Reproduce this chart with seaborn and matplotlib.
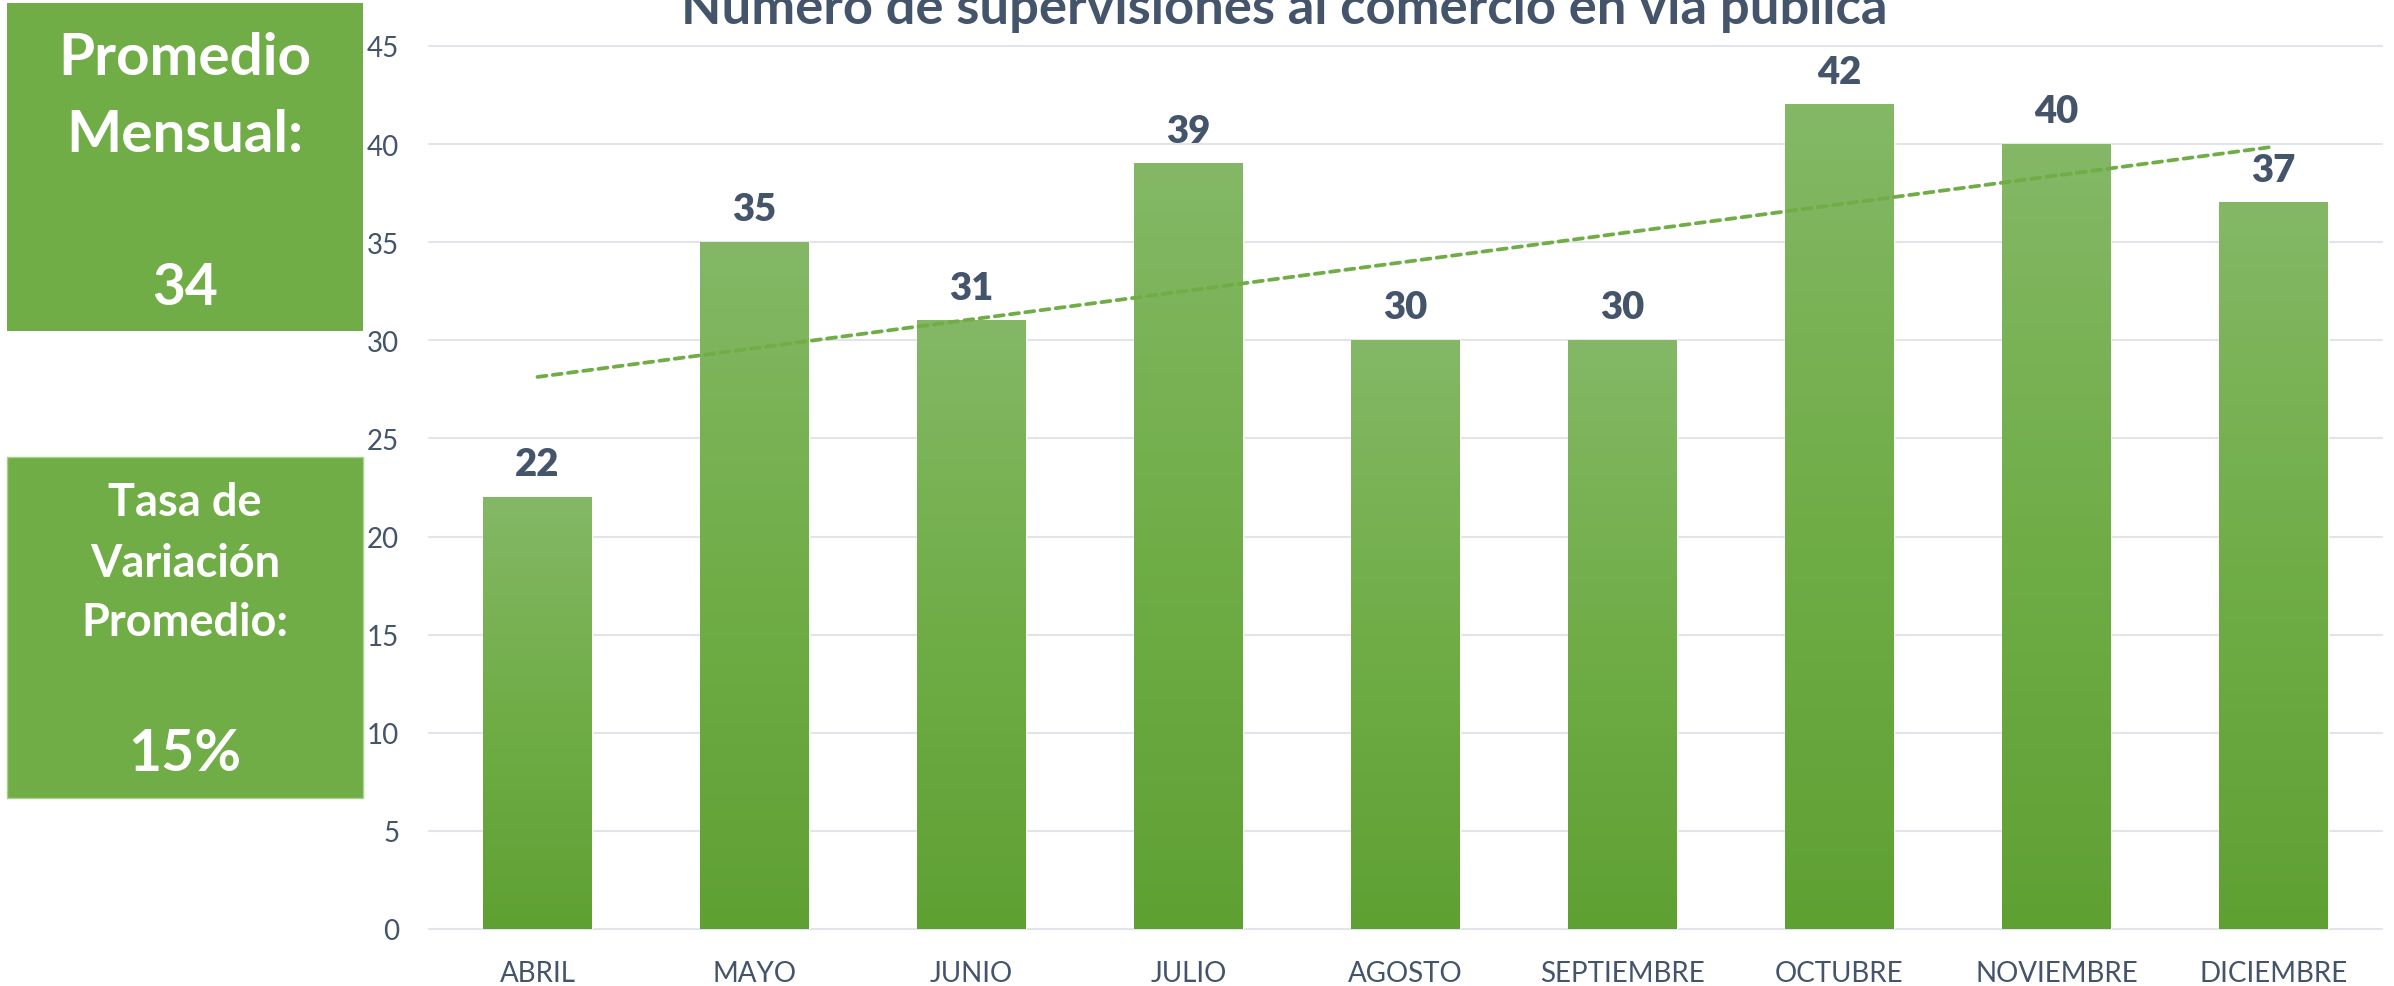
import numpy as np
import pandas as pd
import matplotlib
matplotlib.use("Agg")
import matplotlib.pyplot as plt
import seaborn as sns
from matplotlib.colors import LinearSegmentedColormap
from matplotlib.patches import Rectangle

# ---------------- data ----------------
months = ["ABRIL", "MAYO", "JUNIO", "JULIO", "AGOSTO", "SEPTIEMBRE",
          "OCTUBRE", "NOVIEMBRE", "DICIEMBRE"]
supervisiones = [22, 35, 31, 39, 30, 30, 42, 40, 37]
yticks = [0, 5, 10, 15, 20, 25, 30, 35, 40, 45]
title = "Número de supervisiones al comercio en vía pública"
box1_lines = ["Promedio", "Mensual:", "34"]
box2_lines = ["Tasa de", "Variación", "Promedio:", "15%"]

# ---------------- style ----------------
sns.set_theme(style="white")
plt.rcParams['font.family'] = ['Lato', 'DejaVu Sans']

GREEN = "#70AD47"
TXT = "#44546A"
W, H = 2394, 987
fig = plt.figure(figsize=(W / 100, H / 100), dpi=100)
fig.patch.set_facecolor("white")

ax_left, ax_right, ax_top, ax_bot = 429, 2382, 47, 930
ax = fig.add_axes([ax_left / W, 1 - ax_bot / H, (ax_right - ax_left) / W, (ax_bot - ax_top) / H])

df = pd.DataFrame({"mes": months, "n": supervisiones})
sns.barplot(data=df, x="mes", y="n", color=GREEN, saturation=1, width=0.5, ax=ax, zorder=2)

# gradient fill for each bar
cmap = LinearSegmentedColormap.from_list("g", ["#5FA033", "#70AD47", "#84B866"])
grad = np.linspace(0, 1, 256).reshape(-1, 1)
for p in ax.patches:
    x0, y0 = p.get_x(), p.get_y()
    w, h = p.get_width(), p.get_height()
    ax.imshow(grad, extent=[x0, x0 + w, y0, y0 + h], origin="lower",
              cmap=cmap, aspect="auto", zorder=2.5, interpolation="bicubic")

# linear trend line
sns.regplot(x=np.arange(len(supervisiones)), y=np.array(supervisiones, dtype=float),
            scatter=False, ci=None, ax=ax, truncate=True,
            line_kws=dict(color=GREEN, lw=2.7, ls=(0, (2.4, 1.7)),
                          dash_capstyle="round", zorder=4))

# value labels
for i, v in enumerate(supervisiones):
    ax.annotate(str(v), xy=(i, v), xytext=(0, 22 * 72 / 100), textcoords="offset points",
                ha="center", va="baseline", fontsize=27.5, fontweight="heavy", color=TXT, zorder=5)

ax.set_xlim(-0.5, len(months) - 0.5)
ax.set_ylim(0, 45)
ax.set_yticks(yticks)
ax.set_xlabel("")
ax.set_ylabel("")
for s in ax.spines.values():
    s.set_visible(False)
ax.yaxis.grid(True, color="#E1E5EA", lw=1.5, zorder=0)
ax.set_axisbelow(True)
for gl in ax.get_ygridlines():
    gl.set_clip_on(False)
ax.tick_params(axis="y", length=0, pad=21.5, labelsize=20, labelcolor=TXT)
ax.tick_params(axis="x", length=0, pad=22, labelsize=20, labelcolor=TXT)

# ---------------- side boxes ----------------
fig.add_artist(Rectangle((7 / W, 1 - 332 / H), (363 - 7) / W, (332 - 4) / H,
                         transform=fig.transFigure, facecolor=GREEN, edgecolor="none"))
fig.add_artist(Rectangle((7 / W, 1 - 799 / H), (363 - 7) / W, (799 - 458) / H,
                         transform=fig.transFigure, facecolor=GREEN, edgecolor="#A9D18E", lw=1))

cx = 185 / W
for txt, base, fs in zip(box1_lines, [75, 152, 305], [42, 42, 41]):
    fig.text(cx, 1 - base / H, txt, ha="center", va="baseline", color="white",
             fontsize=fs, fontweight="bold")
for txt, base, fs in zip(box2_lines, [516, 577, 636.5, 770.6], [32.5, 32.5, 32.5, 41]):
    fig.text(cx, 1 - base / H, txt, ha="center", va="baseline", color="white",
             fontsize=fs, fontweight="bold")

# ---------------- title (fit to reference width) ----------------
t = fig.text(1284 / W, 1 - 24 / H, title, ha="center", va="baseline", color=TXT,
             fontsize=30, fontweight="bold")
fig.canvas.draw()
bw = t.get_window_extent().width
t.set_fontsize(30 * 1204 / bw)

fig.savefig("out.png", dpi=100, facecolor="white")
